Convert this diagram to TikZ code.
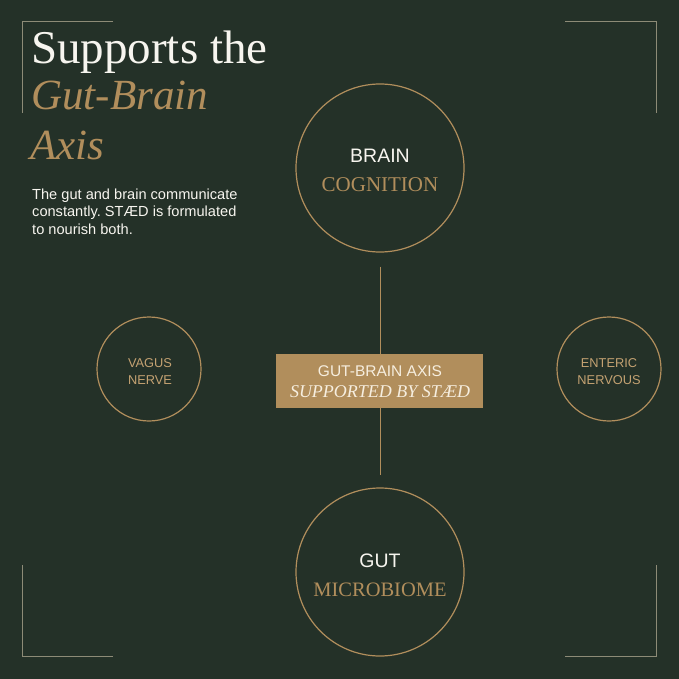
\documentclass[tikz,border=0pt]{standalone}
\usepackage{fontspec}
\setmainfont{Liberation Serif}
\setsansfont{Liberation Sans}
\usepackage{tikz}
\usetikzlibrary{positioning}
\frenchspacing
\definecolor{bgreen}{HTML}{243128}
\definecolor{gold}{HTML}{B18E5C}
\definecolor{tan}{HTML}{C4A272}
\definecolor{cream}{HTML}{F6EEDF}
\definecolor{offwhite}{HTML}{F7F5EF}
\definecolor{bracket}{HTML}{8D8B77}

\begin{document}
\begin{tikzpicture}[x=1pt,y=-1pt,
  ring/.style={circle,draw=gold,line width=1.2pt,minimum size=#1,inner sep=0pt},
  corner/.style={bracket,line width=1pt},
  lbl/.style={anchor=base,inner sep=0pt}]
\fill[bgreen] (0,0) rectangle (679,679);
\foreach \cx/\cy/\dx/\dy in {22/22/1/1,656/22/-1/1,22/656/1/-1,656/656/-1/-1}
  {\draw[corner] (\cx+\dx*91,\cy) -- (\cx,\cy) -- (\cx,\cy+\dy*91);}
% heading
\node[lbl,anchor=base west,offwhite,font=\fontsize{47}{47}\selectfont] (head) at (31,64) {Supports the};
\node[lbl,anchor=base west,gold,font=\itshape\fontsize{43}{43}\selectfont] (headgb) at (31,110) {Gut-Brain};
\node[lbl,anchor=base west,gold,font=\itshape\fontsize{43}{43}\selectfont] (headax) at (30,160) {Axis};
% base of a multi-line node is its last line
\node[lbl,anchor=base west,offwhite,align=left,font=\sffamily\fontsize{14.6}{17.5}\selectfont] (intro) at (32,234)
  {The gut and brain communicate\\constantly. STÆD is formulated\\to nourish both.};
% circles
\node[ring=168pt] (brain) at (380,168) {};
\node[ring=168pt] (gut) at (380,572) {};
\node[ring=104pt] (vagus) at (149,369) {};
\node[ring=104pt] (enteric) at (609,369) {};
\draw[gold,line width=1pt,shorten <=14pt,shorten >=12pt] (brain) -- (gut);
\node[fill=gold,minimum width=207pt,minimum height=54pt,inner sep=0pt] (axisbox) at (379.5,381) {};
% labels
\node[lbl,offwhite,font=\sffamily\fontsize{19.5}{19.5}\selectfont] at (380,162) {BRAIN};
\node[lbl,gold,font=\fontsize{21}{21}\selectfont] at (380,191) {COGNITION};
\node[lbl,offwhite,font=\sffamily\fontsize{19.5}{19.5}\selectfont] at (380,567) {GUT};
\node[lbl,gold,font=\fontsize{20.5}{20.5}\selectfont] at (380,596) {MICROBIOME};
\node[lbl,tan,font=\sffamily\fontsize{12.8}{12.8}\selectfont] at (150,367) {VAGUS};
\node[lbl,tan,font=\sffamily\fontsize{12.8}{12.8}\selectfont] at (150,384) {NERVE};
\node[lbl,tan,font=\sffamily\fontsize{12.8}{12.8}\selectfont] at (609,367) {ENTERIC};
\node[lbl,tan,font=\sffamily\fontsize{12.8}{12.8}\selectfont] at (609,384) {NERVOUS};
\node[lbl,cream,font=\sffamily\fontsize{15.5}{15.5}\selectfont] at (380,376) {GUT-BRAIN AXIS};
\node[lbl,cream,font=\itshape\fontsize{18}{18}\selectfont] at (380,397) {SUPPORTED BY STÆD};
\end{tikzpicture}
\end{document}
